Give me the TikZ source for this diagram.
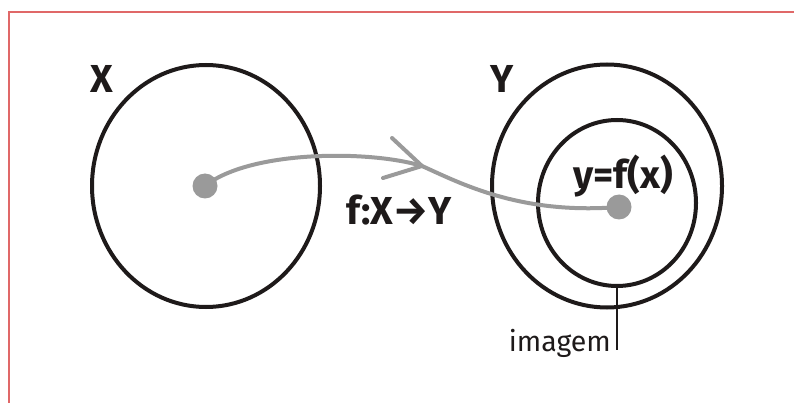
\documentclass[tikz,border=0pt]{standalone}
\usepackage{fontspec}
\setmainfont{Fira Sans}
\usetikzlibrary{shapes.geometric}
\definecolor{framered}{HTML}{E06868}
\definecolor{curvegray}{HTML}{9A9A9A}
\definecolor{ink}{HTML}{1E1A1A}
\begin{document}
\begin{tikzpicture}[x=1pt,y=-1pt,
  setshape/.style={ellipse, draw=ink, line width=4pt, inner sep=0pt},
  dotshape/.style={circle, fill=curvegray, minimum size=25pt, inner sep=0pt},
  curve/.style={draw=curvegray, line width=4pt, line cap=round, line join=round},
  biglbl/.style={font=\fontsize{39}{42}\selectfont\bfseries, text=ink, inner sep=0pt, anchor=base},
  smalllbl/.style={font=\fontsize{28.5}{32}\selectfont, text=ink, inner sep=0pt, anchor=base east}]
\useasboundingbox (0,0) rectangle (794,403);
% frame
\draw[framered, line width=1.3pt] (9,403) -- (9,12) -- (794,12);
% sets
\node[setshape, minimum width=228pt, minimum height=242pt] (X) at (206,186) {};
\node[setshape, minimum width=230pt, minimum height=243pt] (Y) at (607,186) {};
\node[setshape, minimum width=158pt, minimum height=166pt] (img) at (617,203) {};
% dots
\node[dotshape] (a) at (205,186) {};
\node[dotshape] (b) at (619,207) {};
% mapping curve
\coordinate (tip) at (422,166);
\draw[curve] (a.center) .. controls (250,150) and (370,150) .. (tip)
  .. controls (460,183) and (520,215) .. (b.center);
\draw[curve] (tip) ++(-30,-28) -- (tip) -- ++(-39,12);
% labels
\node[biglbl] (lx) at (102,93) {X};
\node[biglbl] (ly) at (502,93) {Y};
\node[biglbl] (lf) at (399,225) {f:X→Y};
\node[biglbl] (lfx) at (623,189) {y=f(x)};
\node[smalllbl] (limg) at (611,351) {imagem};
\coordinate (lineend) at (img.south |- 0,350);
\draw[ink, line width=2pt] (img.south) -- (lineend);
\end{tikzpicture}
\end{document}
